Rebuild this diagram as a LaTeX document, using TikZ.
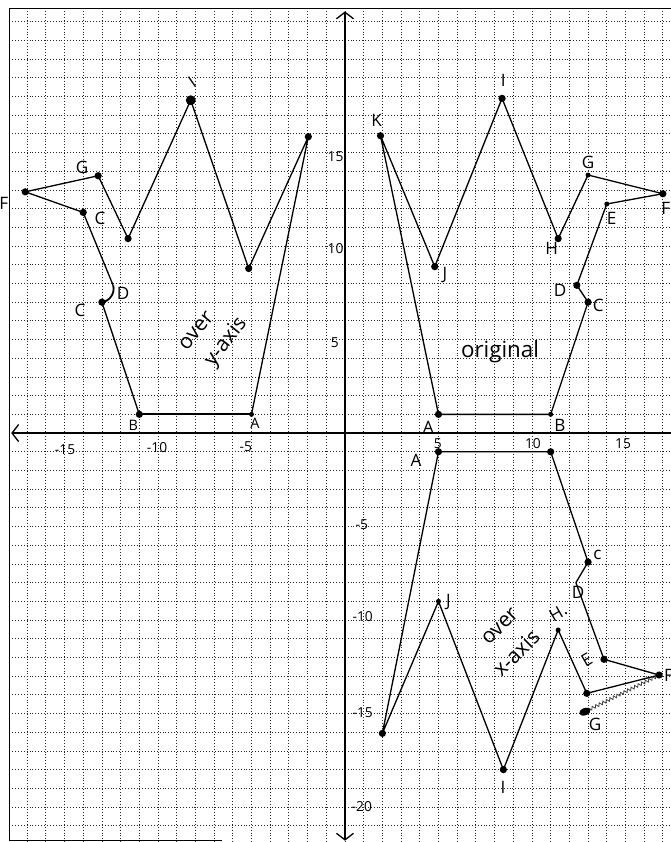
\documentclass[tikz,border=0pt]{standalone}
\usepackage{fontspec}
\setmainfont{Open Sans}
\usetikzlibrary{arrows.meta,decorations.pathmorphing,shapes.geometric}
\begin{document}
\begin{tikzpicture}[x=0.5cm,y=0.5cm,
  gridline/.style={black!85, line width=0.6pt, dash pattern=on 0.7pt off 1.5pt},
  framestyle/.style={black, line width=1pt},
  axisline/.style={line width=1.1pt},
  edge/.style={line width=1pt, line join=round},
  dot/.style={circle, fill=black, inner sep=0pt, minimum size=5.5pt},
  sdot/.style={circle, fill=black, inner sep=0pt, minimum size=3.8pt},
  lbl/.style={font=\fontsize{13}{13}\selectfont, inner sep=0pt},
  num/.style={font=\fontsize{10.5}{11}\selectfont, inner sep=0pt},
  note/.style={font=\fontsize{16}{16}\selectfont, inner sep=0pt}]
\useasboundingbox (-18.45,-21.87) rectangle (17.43,23.16);
\clip (-18.45,-21.87) rectangle (17.43,23.16);

% grid
\foreach \gx in {-17,...,17} \draw[gridline] (\gx,22.71) -- (\gx,-21.87);
\foreach \gy in {-21,...,22} \draw[gridline] (-17.95,\gy) -- (17.43,\gy);

% frame
\draw[framestyle] (17.43,22.71) -- (-17.95,22.71) -- (-17.95,-21.78) -- (-6.6,-21.78);

% axes
\coordinate (ytop) at (0,22.55);
\coordinate (ybot) at (0,-21.8);
\coordinate (xleft) at (-17.85,0);
\coordinate (xright) at (17.43,0);
\draw[axisline, {Straight Barb[length=5pt,width=13pt,line width=1pt]}-{Straight Barb[length=5pt,width=13pt,line width=1pt]}] (ybot) -- (ytop);
\draw[axisline, {Straight Barb[length=5pt,width=13pt,line width=1pt]}-] (xleft) -- (xright);

% axis numbers
\node[num] (nx5) at (4.97,-0.55) {5};
\node[num] (nx10) at (10.05,-0.55) {10};
\node[num] (nx15) at (14.87,-0.55) {15};
\node[num] (nxm5) at (-5.3,-0.7) {-5};
\node[num] (nxm10) at (-10.05,-0.8) {-10};
\node[num] (nxm15) at (-14.97,-0.9) {-15};
\node[num] (ny15) at (-0.5,14.76) {15};
\node[num] (ny10) at (-0.5,9.89) {10};
\node[num] (ny5) at (-0.55,4.81) {5};
\node[num] (nym5) at (0.9,-4.92) {-5};
\node[num] (nym10) at (0.95,-9.84) {-10};
\node[num] (nym15) at (0.95,-14.97) {-15};
\node[num] (nym20) at (0.9,-20.0) {-20};

% original
\foreach \n/\px/\py in {oA/5/1, oB/11/1, oC/13/7, oD/12.4/7.9, oE/14/12.25, oF/17/12.8, oG/13/13.8, oH/11.4/10.4, oI/8.4/17.9, oJ/4.8/8.9, oK/1.9/15.9}
  \coordinate (\n) at (\px,\py);
\draw[edge] (oA) -- (oB) -- (oC) -- (oD) -- (oE) -- (oF) -- (oG) -- (oH) -- (oI) -- (oJ) -- (oK) -- cycle;
\foreach \n in {oA,oC,oD,oF,oH,oI,oJ,oK} \node[dot] (d\n) at (\n) {};
\foreach \n in {oB,oE,oG} \node[sdot] (d\n) at (\n) {};
\node[lbl] (tK) at (1.69,16.74) {K};
\node[lbl] (tI) at (8.47,18.88) {I};
\node[lbl] (tJ) at (5.35,8.45) {J};
\node[lbl] (tH) at (11.05,9.88) {H};
\node[lbl] (tG) at (13.0,14.5) {G};
\node[lbl] (tE) at (14.26,11.48) {E};
\node[lbl] (tF) at (17.15,12.0) {F};
\node[lbl] (tD) at (11.5,7.65) {D};
\node[lbl] (tC) at (13.55,6.84) {C};
\node[lbl] (tA) at (4.45,0.3) {A};
\node[lbl] (tB) at (11.5,0.43) {B};
\node[note, font=\fontsize{17}{17}\selectfont] (torig) at (8.29,4.35) {original};

% over y-axis
\foreach \n/\px/\py in {lA/-5/1, lB/-11/1, lC/-13/7, lD/-12.4/7.9, lE/-14/11.8, lF/-17.1/12.9, lG/-13.2/13.76, lH/-11.6/10.4, lI/-8.25/17.8, lJ/-5.15/8.8, lK/-1.96/15.85}
  \coordinate (\n) at (\px,\py);
\draw[edge, line width=1.5pt] (lA) -- (lB);
\draw[edge] (lB) -- (lC);
\draw[edge, line width=1.4pt] (lC) to[bend right=50] (lD);
\draw[edge] (lD) -- (lE) -- (lF) -- (lG) -- (lH) -- (lI) -- (lJ) -- (lK) -- (lA);
\foreach \n in {lB,lC,lE,lF,lG,lH,lJ,lK} \node[dot] (d\n) at (\n) {};
\node[sdot] (dlA) at (lA) {};
\node[dot, minimum size=7.5pt] (dlI) at (lI) {};
\node[lbl] (uG) at (-14.06,14.22) {G};
\node[lbl] (uF) at (-18.25,12.3) {F};
\node[lbl] (uE) at (-13.1,11.5) {C};
\node[lbl, rotate=35] (uI) at (-8.18,18.77) {I};
\node[lbl] (uD) at (-11.87,7.49) {D};
\node[lbl] (uC) at (-14.17,6.58) {C};
\node[lbl, font=\fontsize{11}{11}\selectfont] (uB) at (-11.32,0.43) {B};
\node[lbl, font=\fontsize{11}{11}\selectfont] (uA) at (-4.81,0.5) {A};
\node[note, rotate=50] (uover1) at (-7.95,5.45) {over};
\node[note, rotate=52] (uover2) at (-6.35,4.85) {y-axis};

% over x-axis
\foreach \n/\px/\py in {xA/5/-1, xB/11/-1, xC/13/-6.9, xD/12.35/-8.0, xE/13.85/-12.1, xF/16.8/-12.94, xG/12.93/-13.92, xGb/12.83/-14.9, xH/11.4/-10.53, xI/8.47/-18, xJ/5/-9, xK/2/-16.06}
  \coordinate (\n) at (\px,\py);
\draw[edge] (xA) -- (xB) -- (xC) -- (xD) -- (xE) -- (xF) -- (xG) -- (xH) -- (xI) -- (xJ) -- (xK) -- cycle;
\draw[black!75, line width=0.6pt, decorate, decoration={zigzag, amplitude=1.2pt, segment length=3pt}] (xGb) -- (xF);
\foreach \n in {xA,xB,xC,xE,xF,xG,xI,xK} \node[dot] (d\n) at (\n) {};
\foreach \n in {xH,xJ} \node[sdot] (d\n) at (\n) {};
\node[ellipse, fill=black, inner sep=0pt, minimum width=9pt, minimum height=5.5pt, rotate=20] (dxGb) at (xGb) {};
\node[lbl] (vA) at (3.8,-1.44) {A};
\node[lbl] (vC) at (13.5,-6.5) {c};
\node[lbl] (vD) at (12.46,-8.5) {D};
\node[lbl, rotate=30] (vE) at (12.93,-12.14) {E};
\node[lbl] (vF) at (17.3,-12.94) {F};
\node[lbl] (vG) at (13.37,-15.56) {G};
\node[lbl, rotate=30] (vH) at (11.4,-9.6) {H.};
\node[lbl] (vI) at (8.45,-18.93) {I};
\node[lbl] (vJ) at (5.53,-9.02) {J};
\node[note, rotate=45] (vover1) at (8.3,-10.35) {over};
\node[note, rotate=45] (vover2) at (9.15,-11.75) {x-axis};
\end{tikzpicture}
\end{document}
